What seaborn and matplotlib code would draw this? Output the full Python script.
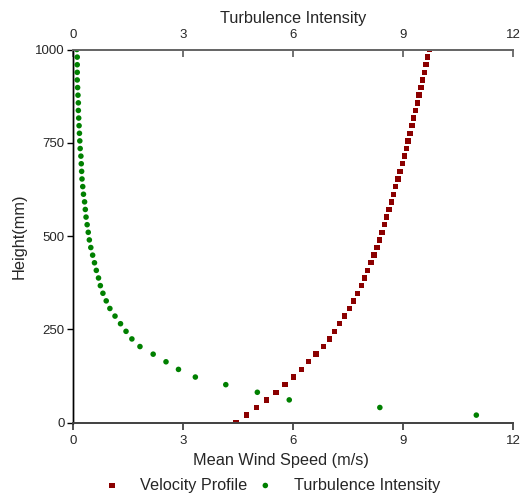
import numpy as np
import pandas as pd
import matplotlib
matplotlib.use('Agg')
import matplotlib.pyplot as plt
import seaborn as sns

# heights of the measuring points (mm)
height = [0, 20.4, 40.8, 61.2, 81.6, 102.0, 122.4, 142.9, 163.3, 183.7,
          204.1, 224.5, 244.9, 265.3, 285.7, 306.1, 326.5, 346.9, 367.3, 387.8,
          408.2, 428.6, 449.0, 469.4, 489.8, 510.2, 530.6, 551.0, 571.4, 591.8,
          612.2, 632.7, 653.1, 673.5, 693.9, 714.3, 734.7, 755.1, 775.5, 795.9,
          816.3, 836.7, 857.1, 877.6, 898.0, 918.4, 938.8, 959.2, 979.6, 1000.0]

# mean wind speed (m/s)
velocity = [4.45, 4.73, 5.01, 5.28, 5.54, 5.78, 6.02, 6.23, 6.43, 6.63,
            6.83, 6.99, 7.13, 7.27, 7.41, 7.54, 7.66, 7.76, 7.87, 7.95,
            8.03, 8.13, 8.21, 8.29, 8.36, 8.43, 8.49, 8.55, 8.62, 8.68,
            8.74, 8.80, 8.86, 8.92, 8.98, 9.04, 9.09, 9.14, 9.19, 9.25,
            9.29, 9.34, 9.39, 9.44, 9.49, 9.53, 9.58, 9.63, 9.67, 9.72]

# turbulence intensity (no value at ground level)
turbulence = [np.nan, 11.0, 8.37, 5.90, 5.03, 4.17, 3.34, 2.88, 2.54, 2.19,
              1.83, 1.61, 1.45, 1.30, 1.15, 1.01, 0.91, 0.82, 0.75, 0.70,
              0.64, 0.59, 0.54, 0.49, 0.45, 0.42, 0.39, 0.36, 0.34, 0.32,
              0.29, 0.27, 0.25, 0.24, 0.23, 0.22, 0.20, 0.19, 0.18, 0.17,
              0.16, 0.15, 0.15, 0.14, 0.13, 0.12, 0.12, 0.12, 0.12, 0.11]

df = pd.DataFrame({'height': height, 'velocity': velocity, 'turbulence': turbulence})

sns.set_style('white')
plt.rcParams['font.family'] = ['Liberation Sans', 'DejaVu Sans']

fig = plt.figure(figsize=(5.24, 4.95), dpi=100)
ax = fig.add_axes([0.139, 0.146, 0.840, 0.754])

sns.scatterplot(data=df, x='velocity', y='height', ax=ax, marker='s', s=15,
                color='#8b0000', edgecolor='none', label='Velocity Profile', legend=False)
ax.set_xlim(0, 12)
ax.set_ylim(0, 1000)
ax.set_xticks([0, 3, 6, 9, 12])
ax.set_yticks([0, 250, 500, 750, 1000])
ax.set_xlabel('Mean Wind Speed (m/s)', fontsize=11.7)
ax.set_ylabel('Height(mm)', fontsize=11.7, labelpad=6)
ax.xaxis.set_label_coords(0.473, -0.082, transform=ax.transAxes)
ax.xaxis.label.set_va('top')

ax2 = ax.twiny()
sns.scatterplot(data=df, x='turbulence', y='height', ax=ax2, marker='o', s=16,
                color='#008000', edgecolor='none', label='Turbulence Intensity', legend=False)
ax2.set_xlim(0, 12)
ax2.set_xticks([0, 3, 6, 9, 12])
ax2.set_xlabel('Turbulence Intensity', fontsize=11.7, labelpad=4.5)
ax2.set_ylabel('')

for a in (ax, ax2):
    a.spines['right'].set_visible(False)
    a.spines['left'].set_color('black')
    a.spines['left'].set_linewidth(1.0)
    a.spines['bottom'].set_color('#444444')
    a.spines['bottom'].set_linewidth(1.3)
    a.spines['top'].set_color('#666666')
    a.spines['top'].set_linewidth(1.3)
    a.grid(False)

ax.tick_params(axis='y', direction='out', length=4, width=1, color='black',
               labelsize=9.5, pad=2, left=True)
ax.tick_params(axis='x', direction='out', length=5, width=1.3, color='#444444',
               labelsize=9.5, pad=3.5, bottom=True)
ax2.tick_params(axis='x', direction='in', length=5, width=1.3, color='#666666',
                labelsize=9.5, pad=6, top=True)

h1, l1 = ax.get_legend_handles_labels()
h2, l2 = ax2.get_legend_handles_labels()
fig.legend(h1 + h2, l1 + l2, loc='lower center', bbox_to_anchor=(0.511, -0.025),
           ncol=2, frameon=False, fontsize=11.7, handletextpad=0.74,
           columnspacing=0.1, markerscale=1.0)

fig.savefig('out.png', dpi=100)
